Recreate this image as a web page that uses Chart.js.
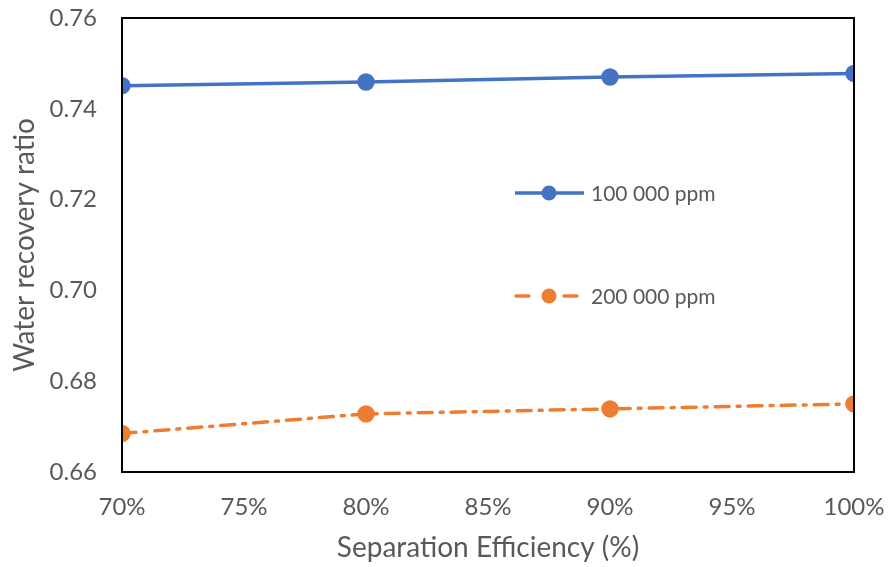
<!DOCTYPE html>
<html>
<head>
<meta charset="utf-8">
<script src="https://cdn.jsdelivr.net/npm/chart.js@4/dist/chart.umd.min.js"></script>
<style>
	html, body { margin: 0; padding: 0; background: #ffffff; }
	#wrap { width: 888px; height: 567px; }
</style>
</head>
<body>
<div id="wrap"><canvas id="recovery-chart" width="888" height="567"></canvas></div>
<script>
var efficiency = [70, 80, 90, 100];
var ppm100k = [0.7451, 0.7459, 0.7470, 0.7478];
var ppm200k = [0.6685, 0.6728, 0.6739, 0.6750];
var seriesNames = ["100 000 ppm", "200 000 ppm"];

var blue = "#4472C4";
var orange = "#ED7D31";
var grey = "#595959";
var font = "Lato, 'Open Sans', sans-serif";

var toPoints = function(values) {
	var points = [];
	for (var i = 0; i < efficiency.length; i++) {
		points.push({ x: efficiency[i], y: values[i] });
	}
	return points;
};

// box around the plot area
var frame = {
	id: 'frame',
	afterDraw: function(chart) {
		var a = chart.chartArea;
		var ctx = chart.ctx;
		ctx.save();
		ctx.strokeStyle = "#000000";
		ctx.lineWidth = 2;
		ctx.strokeRect(a.left, a.top, a.right - a.left, a.bottom - a.top);
		ctx.restore();
	}
};

// line + marker legend placed inside the plot
var inlineLegend = {
	id: 'inlineLegend',
	afterDatasetsDraw: function(chart) {
		var ctx = chart.ctx;
		var rows = [193, 296];
		var x0 = 515, x1 = 584;
		ctx.save();
		for (var i = 0; i < chart.data.datasets.length; i++) {
			var ds = chart.data.datasets[i];
			var y = rows[i];
			ctx.strokeStyle = ds.borderColor;
			ctx.lineWidth = ds.borderWidth;
			ctx.lineCap = i == 1 ? 'round' : 'butt';
			ctx.beginPath();
			if (i == 1) {
				ctx.moveTo(x0 + 1, y); ctx.lineTo(x0 + 14, y);
				ctx.moveTo(x1 - 20, y); ctx.lineTo(x1 - 7, y);
			} else {
				ctx.moveTo(x0, y); ctx.lineTo(x1, y);
			}
			ctx.stroke();
			ctx.fillStyle = ds.pointBackgroundColor;
			ctx.beginPath();
			ctx.arc(549, y, 7.5, 0, Math.PI * 2);
			ctx.fill();
			ctx.fillStyle = grey;
			ctx.font = "21px " + font;
			ctx.textBaseline = 'middle';
			ctx.fillText(ds.label, 591, y + 1);
		}
		ctx.restore();
	}
};

var context = document.getElementById('recovery-chart').getContext('2d');
var chart = new Chart(context, {
	type: 'line',
	data: {
		datasets: [
			{ label: seriesNames[0], data: toPoints(ppm100k), borderColor: blue, backgroundColor: blue, pointBackgroundColor: blue, pointBorderColor: blue, borderWidth: 3.5, pointRadius: 7, tension: 0 },
			{ label: seriesNames[1], data: toPoints(ppm200k), borderColor: orange, backgroundColor: orange, pointBackgroundColor: orange, pointBorderColor: orange, borderWidth: 3.5, borderDash: [14, 8, 3, 8], borderCapStyle: 'round', pointRadius: 7, tension: 0 }
		]
	},
	options: {
		responsive: false,
		animation: false,
		layout: { padding: { top: 18, right: 34, bottom: 0, left: 0 } },
		plugins: {
			legend: { display: false },
			tooltip: { enabled: false }
		},
		scales: {
			x: {
				type: 'linear', min: 70, max: 100,
				ticks: { stepSize: 5, color: grey, font: { family: font, size: 24 }, padding: 21, maxRotation: 0, callback: function(v) { return v + '%'; } },
				grid: { display: false, drawTicks: false },
				border: { display: false },
				title: { display: true, text: 'Separation Efficiency (%)', color: grey, font: { family: font, size: 28 }, padding: { top: 0, bottom: 2 } },
				afterFit: function(scale) {
					scale.height = 95;
					scale.paddingLeft = 0;
					scale.paddingRight = 0;
				}
			},
			y: {
				type: 'linear', min: 0.66, max: 0.76,
				afterBuildTicks: function(axis) {
					var ticks = [];
					for (var v = 0.66; v <= 0.7601; v += 0.02) { ticks.push({ value: Math.round(v * 100) / 100 }); }
					axis.ticks = ticks;
				},
				ticks: { color: grey, font: { family: font, size: 24 }, padding: 25, callback: function(v) { return v.toFixed(2); } },
				grid: { display: false, drawTicks: false },
				border: { display: false },
				title: { display: true, text: 'Water recovery ratio', color: grey, font: { family: font, size: 28 }, padding: { top: 8, bottom: 0 } },
				afterFit: function(scale) {
					scale.width = 122;
					scale.paddingTop = 0;
					scale.paddingBottom = 0;
				}
			}
		}
	},
	plugins: [frame, inlineLegend]
});
</script>
</body>
</html>
